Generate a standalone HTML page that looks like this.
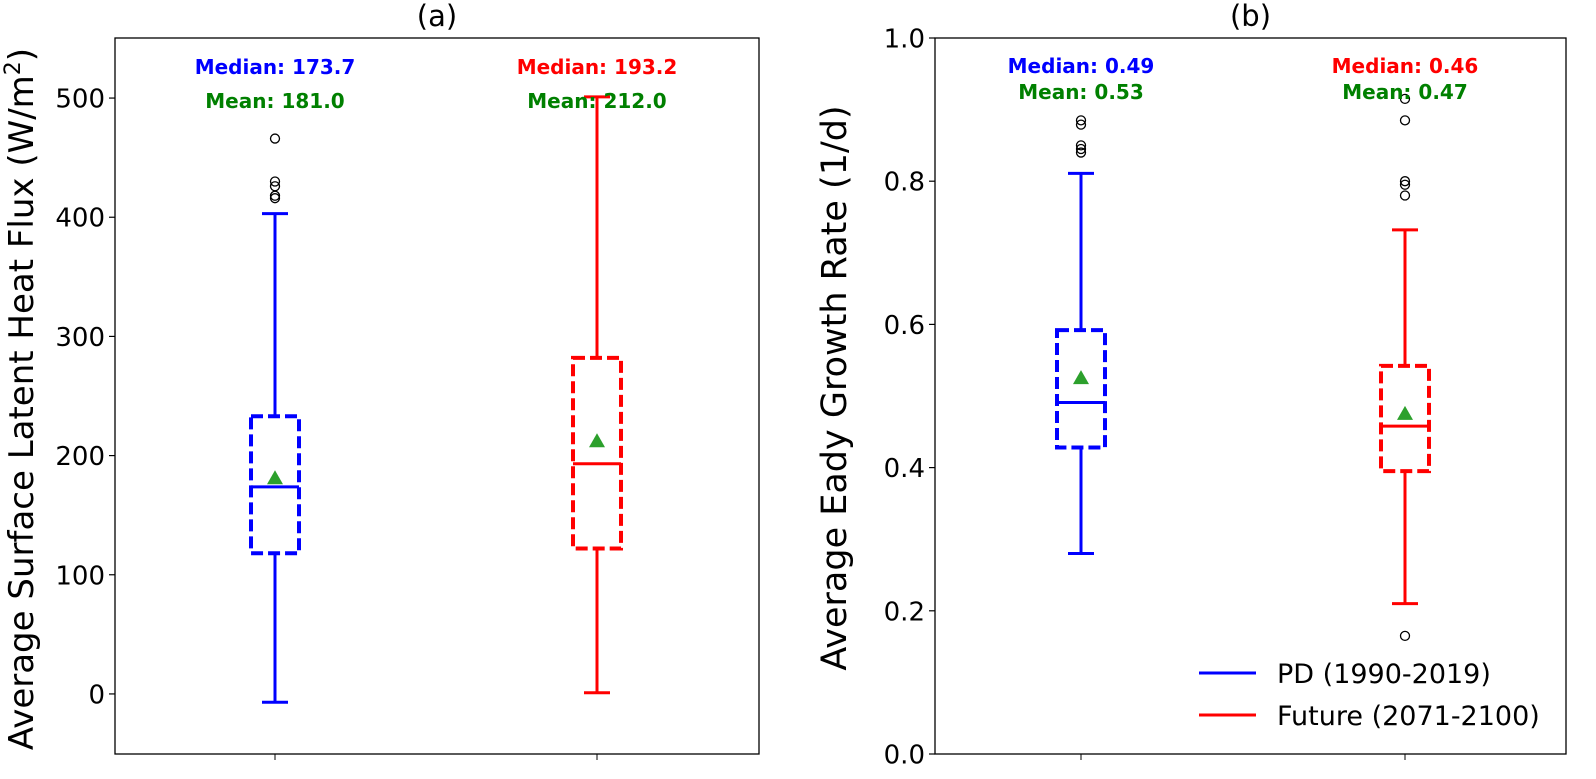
<!DOCTYPE html>
<html><head><meta charset="utf-8"><style>
html,body{margin:0;padding:0;background:#fff;overflow:hidden;width:1596px;height:779px;}
svg{display:block;font-family:"DejaVu Sans","Liberation Sans",sans-serif;}
</style></head><body>
<svg id="chart" width="1596" height="779" viewBox="0 0 1596 779" xmlns="http://www.w3.org/2000/svg"></svg>
<script>
// Panel A data
const aCategories = ["PD (1990-2019)", "Future (2071-2100)"];
const aWhiskerLow = [-7, 1];
const aQ1 = [118, 122];
const aMedian = [173.7, 193.2];
const aQ3 = [233, 282];
const aWhiskerHigh = [403, 501];
const aMean = [181.0, 212.0];
const aOutliers = [[466, 430, 426, 418, 416], []];
const aTicks = [0, 100, 200, 300, 400, 500];
const aTickLabels = ["0", "100", "200", "300", "400", "500"];
const aMedianLabels = ["Median: 173.7", "Median: 193.2"];
const aMeanLabels = ["Mean: 181.0", "Mean: 212.0"];
// Panel B data
const bWhiskerLow = [0.28, 0.21];
const bQ1 = [0.428, 0.395];
const bMedian = [0.491, 0.458];
const bQ3 = [0.592, 0.542];
const bWhiskerHigh = [0.811, 0.732];
const bMean = [0.525, 0.475];
const bOutliers = [[0.885, 0.879, 0.85, 0.845, 0.84], [0.915, 0.885, 0.80, 0.795, 0.78, 0.165]];
const bTicks = [0.0, 0.2, 0.4, 0.6, 0.8, 1.0];
const bTickLabels = ["0.0", "0.2", "0.4", "0.6", "0.8", "1.0"];
const bMedianLabels = ["Median: 0.49", "Median: 0.46"];
const bMeanLabels = ["Mean: 0.53", "Mean: 0.47"];
const seriesColors = ["#0000ff", "#ff0000"];

const NS = "http://www.w3.org/2000/svg";
const svg = document.getElementById("chart");
function mk(tag, attrs, parent, text) {
  const e = document.createElementNS(NS, tag);
  for (const k in attrs) e.setAttribute(k, attrs[k]);
  if (text !== undefined) e.textContent = text;
  (parent || svg).appendChild(e);
  return e;
}

function panel(cfg) {
  const g = mk("g", {});
  
  
  const {L, R, T, B, ymin, ymax, xs} = cfg;
  const y = v => B - (v - ymin) / (ymax - ymin) * (B - T);
  cfg.ticks.forEach((t, i) => {
    const tk = mk("line", {x1: L - 6, x2: L, y1: y(t), y2: y(t), stroke: "#000", "stroke-width": 1.2}, g);
    
    
    const tl = mk("text", {x: L - 10, y: y(t) + 9.5, "text-anchor": "end", "font-size": 26}, g, cfg.tickLabels[i]);
    
    
  });
  xs.forEach(x => {
    const xt = mk("line", {x1: x, x2: x, y1: B, y2: B + 6, stroke: "#000", "stroke-width": 1}, g);
    
    
  });
  const hw = 24, cw = 13;
  for (let i = 0; i < 2; i++) {
    const c = seriesColors[i], x = xs[i];
    const bx = mk("g", {}, g);
    
    
    mk("line", {x1: x, x2: x, y1: y(cfg.wl[i]), y2: y(cfg.q1[i]), stroke: c, "stroke-width": 3}, bx);
    mk("line", {x1: x, x2: x, y1: y(cfg.q3[i]), y2: y(cfg.wh[i]), stroke: c, "stroke-width": 3}, bx);
    mk("line", {x1: x - cw, x2: x + cw, y1: y(cfg.wl[i]), y2: y(cfg.wl[i]), stroke: c, "stroke-width": 3}, bx);
    mk("line", {x1: x - cw, x2: x + cw, y1: y(cfg.wh[i]), y2: y(cfg.wh[i]), stroke: c, "stroke-width": 3}, bx);
    mk("rect", {x: x - hw, y: y(cfg.q3[i]), width: 2 * hw, height: y(cfg.q1[i]) - y(cfg.q3[i]), fill: "none", stroke: c, "stroke-width": 4, "stroke-dasharray": "12 5"}, bx);
    mk("line", {x1: x - hw, x2: x + hw, y1: y(cfg.med[i]), y2: y(cfg.med[i]), stroke: c, "stroke-width": 3}, bx);
    const ym = y(cfg.mean[i]);
    const mt = mk("polygon", {points: `${x},${ym - 8} ${x - 8},${ym + 6} ${x + 8},${ym + 6}`, fill: "#2ca02c"}, bx);
    
    
    cfg.out[i].forEach(o => {
      const oc = mk("circle", {cx: x, cy: y(o), r: 4.5, fill: "none", stroke: "#000", "stroke-width": 1.3}, bx);
      
      
    });
    const t1 = mk("text", {x: x, y: cfg.labelY[0], "text-anchor": "middle", "font-size": 20, "font-weight": "bold", fill: c}, g, cfg.medLab[i]);
    
    
    const t2 = mk("text", {x: x, y: cfg.labelY[1], "text-anchor": "middle", "font-size": 20, "font-weight": "bold", fill: "#008000"}, g, cfg.meanLab[i]);
    
    
  }
  const fr = mk("rect", {x: L, y: T, width: R - L, height: B - T, fill: "none", stroke: "#000", "stroke-width": 1.3}, g);
  
  
  const ti = mk("text", {x: (L + R) / 2, y: 26, "text-anchor": "middle", "font-size": 29}, g, cfg.title);
  
  
  const yl = mk("text", {x: 0, y: 0, "text-anchor": "middle", "font-size": cfg.ylabSize, transform: `translate(${cfg.ylabX},${cfg.ylabY}) rotate(-90)`}, g);
  
  
  yl.innerHTML = cfg.ylabel;
}

panel({name: "panel-a", L: 115, R: 759, T: 38, B: 754, ymin: -50.4, ymax: 550.4, xs: [275, 597],
  ticks: aTicks, tickLabels: aTickLabels, wl: aWhiskerLow, q1: aQ1, med: aMedian, q3: aQ3, wh: aWhiskerHigh,
  mean: aMean, out: aOutliers, medLab: aMedianLabels, meanLab: aMeanLabels, labelY: [74, 108],
  title: "(a)", ylabX: 33, ylabY: 399, ylabSize: 34, ylabel: 'Average Surface Latent Heat Flux (W/m<tspan dy="-13" font-size="22">2</tspan><tspan dy="13">)</tspan>'});
panel({name: "panel-b", L: 935, R: 1566, T: 38, B: 754, ymin: 0, ymax: 1, xs: [1081, 1405],
  ticks: bTicks, tickLabels: bTickLabels, wl: bWhiskerLow, q1: bQ1, med: bMedian, q3: bQ3, wh: bWhiskerHigh,
  mean: bMean, out: bOutliers, medLab: bMedianLabels, meanLab: bMeanLabels, labelY: [73, 99],
  title: "(b)", ylabX: 846, ylabY: 388, ylabSize: 35, ylabel: 'Average Eady Growth Rate (1/d)'});

const lg = mk("g", {});


[["PD (1990-2019)", 673], ["Future (2071-2100)", 715]].forEach((e, i) => {
  const en = mk("g", {}, lg);
  
  
  mk("line", {x1: 1199, x2: 1256, y1: e[1], y2: e[1], stroke: seriesColors[i], "stroke-width": 3}, en);
  mk("text", {x: 1277, y: e[1] + 10, "font-size": 27}, en, e[0]);
});
</script>
</body></html>
